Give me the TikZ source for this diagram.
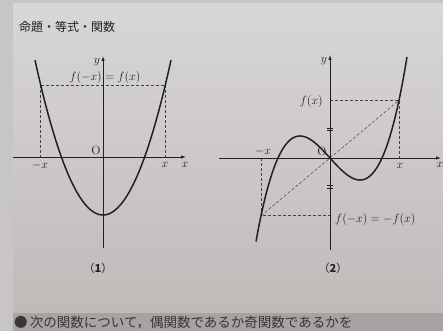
\documentclass[tikz,border=0pt]{standalone}
\usepackage{fontspec}
\newfontfamily\jpfont{Noto Sans CJK JP}
\usetikzlibrary{arrows.meta}
\definecolor{desk}{RGB}{200,198,196}
\definecolor{papertop}{RGB}{216,215,214}
\definecolor{paperlow}{RGB}{192,186,185}
\definecolor{nextpage}{RGB}{168,162,162}
\definecolor{ink}{RGB}{34,32,32}
\tikzset{
  axis/.style={ink, line width=0.8pt, -{Latex[length=5pt,width=3.5pt]}},
  curve/.style={ink, line width=1.5pt},
  guide/.style={ink!85, densely dashed, line width=0.5pt},
  lbl/.style={text=ink, inner sep=1pt, font=\fontsize{12}{12}\selectfont},
  eqlbl/.style={text=ink, inner sep=1pt, font=\fontsize{12.5}{12.5}\selectfont},
  caption/.style={text=ink, inner sep=1pt, font=\jpfont\fontsize{11}{11}\selectfont}
}

\begin{document}
\begin{tikzpicture}[x=1pt, y=-1pt]
  \useasboundingbox (0,0) rectangle (443,331);
  % page
  \fill[desk] (0,0) rectangle (443,331);
  \shade[top color=papertop, bottom color=paperlow] (13,4) rectangle (443,313);
  \fill[nextpage] (13,313) rectangle (443,331);
  \node[anchor=north west, text=ink!90, inner sep=0pt, font=\jpfont\fontsize{13.5}{13.5}\selectfont]
    (nexttext) at (14,316) {●\,次の関数について，偶関数であるか奇関数であるかを};
  \node[anchor=west, text=ink, inner sep=0pt, font=\jpfont\fontsize{12}{12}\selectfont]
    (title) at (19,27) {命題・等式・関数};

  % (1) even function
  \coordinate (oa) at (103,157);
  \coordinate (xa0) at (13,157);
  \coordinate (xa1) at (186,157);
  \coordinate (ya0) at (103,248);
  \coordinate (ya1) at (103,56);
  \coordinate (pl) at (40.6,85);
  \coordinate (pr) at (165.4,85);
  \coordinate (ql) at (40.6,157);
  \coordinate (qr) at (165.4,157);
  \draw[guide] (pl) -- (pr);
  \draw[guide] (pl) -- (ql);
  \draw[guide] (pr) -- (qr);
  \draw[axis] (xa0) -- (xa1);
  \draw[axis] (ya0) -- (ya1);
  \draw[curve, shift={(oa)}] plot[domain=-68:68, samples=80, smooth] (\x, {58 - 0.0335*\x*\x});
  \node[lbl] (ylab1) at (97,62) {$y$};
  \node[lbl] (olab1) at (96,150) {O};
  \node[lbl] (mxlab1) at (40,165) {$-x$};
  \node[lbl] (xlab1) at (165,165) {$x$};
  \node[lbl] (xaxlab1) at (185,165) {$x$};
  \node[eqlbl] (eqlab1) at (105,78) {$f(-x)=f(x)$};
  \node[caption] (cap1) at (98,268) {（\textbf{1}）};

  % (2) odd function
  \coordinate (ob) at (330,158);
  \coordinate (xb0) at (219,158);
  \coordinate (xb1) at (441,158);
  \coordinate (yb0) at (330,250);
  \coordinate (yb1) at (330,55);
  \coordinate (pp) at (399,100.3);
  \coordinate (pm) at (261,215.7);
  \coordinate (qp) at (399,158);
  \coordinate (qm) at (261,158);
  \coordinate (fp) at (330,100.3);
  \coordinate (fm) at (330,215.7);
  \draw[guide] (fp) -- (pp) -- (qp);
  \draw[guide] (qm) -- (pm) -- (fm);
  \draw[guide] (pm) -- (ob) -- (pp);
  \draw[axis] (xb0) -- (xb1);
  \draw[axis] (yb0) -- (yb1);
  % equal length marks
  \foreach \m in {129.2, 186.8} {
    \draw[ink, line width=0.5pt] (327,\m-1.3) -- (333,\m-1.3);
    \draw[ink, line width=0.5pt] (327,\m+1.3) -- (333,\m+1.3);
  }
  \draw[curve, shift={(ob)}] plot[domain=-74:77, samples=100, smooth]
    (\x, {-0.407*(\x/10)*((\x/10)*(\x/10)-27.04)});
  \node[lbl] (ylab2) at (324,61) {$y$};
  \node[lbl] (olab2) at (322,151) {O};
  \node[lbl] (mxlab2) at (263,151) {$-x$};
  \node[lbl] (xlab2) at (400,166) {$x$};
  \node[lbl] (xaxlab2) at (440,165) {$x$};
  \node[eqlbl, anchor=east] (fxlab) at (324,102) {$f(x)$};
  \node[eqlbl, anchor=west] (eqlab2) at (334,219) {$f(-x)=-f(x)$};
  \node[caption] (cap2) at (333,268) {（\textbf{2}）};
\end{tikzpicture}
\end{document}
